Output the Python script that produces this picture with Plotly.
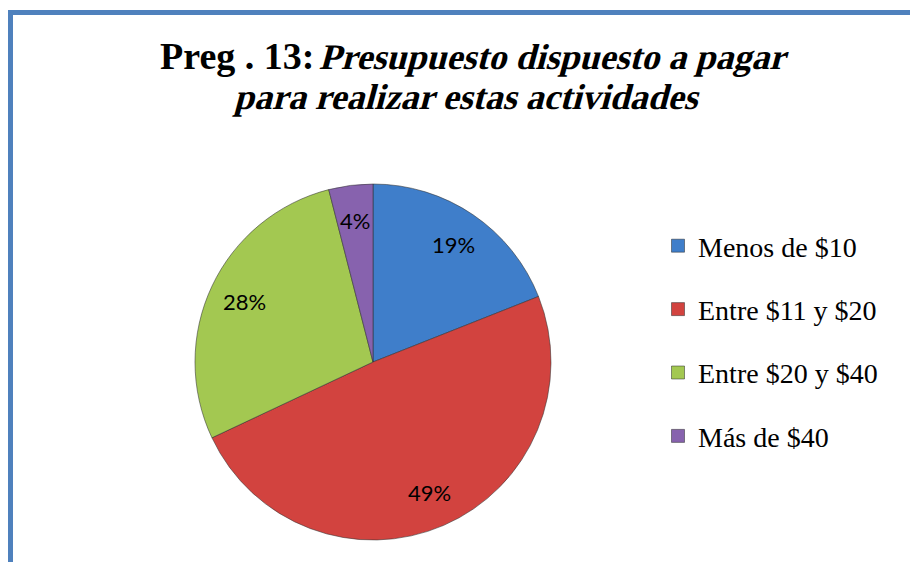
import math
import plotly.graph_objects as go

W, H = 918, 562
OFF = 8  # page body margin

categories = ["Menos de $10", "Entre $11 y $20", "Entre $20 y $40", "Más de $40"]
values = [19, 49, 28, 4]
colors = ["#3F7ECA", "#D2433F", "#A3C851", "#8762AE"]

title_lead = "Preg . 13:"
title_line1 = "Presupuesto dispuesto a pagar"
title_line2 = "para realizar estas actividades"

def fx(px):
    return (px - OFF) / W

def fy(py):
    return 1 - (py - OFF) / H

px_left, px_right, px_top, px_bottom = 194, 552, 184, 540

fig = go.Figure()
fig.add_trace(go.Pie(
    labels=categories, values=values, sort=False, direction="clockwise", rotation=0,
    marker=dict(colors=colors, line=dict(color="rgba(50,50,50,0.55)", width=1)),
    textinfo="none", hoverinfo="label+percent", showlegend=False,
    domain=dict(x=[fx(px_left), fx(px_right)], y=[fy(px_bottom), fy(px_top)]),
))

cx = (px_left + px_right) / 2
cy = (px_top + px_bottom) / 2
R = min(px_right - px_left, px_bottom - px_top) / 2
total = sum(values)
cum = 0
for v in values:
    mid = (cum + v / 2) / total * 2 * math.pi
    cum += v
    lx = cx + 0.8 * R * math.sin(mid)
    ly = cy - 0.8 * R * math.cos(mid)
    fig.add_annotation(x=fx(lx), y=fy(ly), xref="paper", yref="paper",
                       xanchor="center", yanchor="middle",
                       text=f"{round(v / total * 100)}%", showarrow=False,
                       font=dict(family="Lato, sans-serif", size=22, color="black"))

# title (three pieces so the italic parts can be slanted)
tfont = dict(family="Liberation Serif, Times New Roman, serif", size=36, color="black")
lead_font = dict(tfont, size=38)
fig.add_annotation(x=fx(158), y=fy(56), xref="paper", yref="paper", xanchor="left",
                   yanchor="middle", showarrow=False, text=f"<b>{title_lead}</b>", font=lead_font)
fig.add_annotation(x=fx(320), y=fy(57), xref="paper", yref="paper", xanchor="left",
                   yanchor="middle", showarrow=False, text=f"<b>{title_line1}</b>", font=tfont)
fig.add_annotation(x=fx(235), y=fy(97), xref="paper", yref="paper", xanchor="left",
                   yanchor="middle", showarrow=False, text=f"<b>{title_line2}</b>", font=tfont)

for name, c in zip(categories, colors):
    fig.add_trace(go.Scatter(
        x=[None], y=[None], mode="markers", name=name, legendgroup=name,
        marker=dict(symbol="square", size=13, color=c,
                    line=dict(color="rgba(40,40,40,0.5)", width=1)),
        hoverinfo="skip",
    ))

fig.update_layout(
    width=W, height=H,
    margin=dict(l=0, r=0, t=0, b=0),
    paper_bgcolor="white", plot_bgcolor="white",
    xaxis=dict(visible=False), yaxis=dict(visible=False),
    legend=dict(
        x=fx(658), xanchor="left", y=fy(221), yanchor="top",
        font=dict(family="Liberation Serif, Times New Roman, serif", size=28, color="black"),
        tracegroupgap=24, itemwidth=30, bgcolor="rgba(0,0,0,0)",
    ),
    shapes=[
        dict(type="line", xref="paper", yref="paper", x0=fx(10.5), x1=1.05,
             y0=fy(12.5), y1=fy(12.5), line=dict(color="#4F81BD", width=5)),
        dict(type="line", xref="paper", yref="paper", x0=fx(10.5), x1=fx(10.5),
             y0=fy(10), y1=-0.05, line=dict(color="#4F81BD", width=5)),
    ],
)

post = """
var gd = document.getElementById('{plot_id}');
var targets = %s;
gd.querySelectorAll('text.annotation-text').forEach(function(t){
  if (targets.indexOf(t.textContent) >= 0) {
    t.style.transformBox = 'fill-box';
    t.style.transformOrigin = 'center';
    t.style.transform = 'skewX(-15deg)';
  }
});
""" % ('["%s", "%s"]' % (title_line1, title_line2))

fig.write_html("out.html", post_script=post)
